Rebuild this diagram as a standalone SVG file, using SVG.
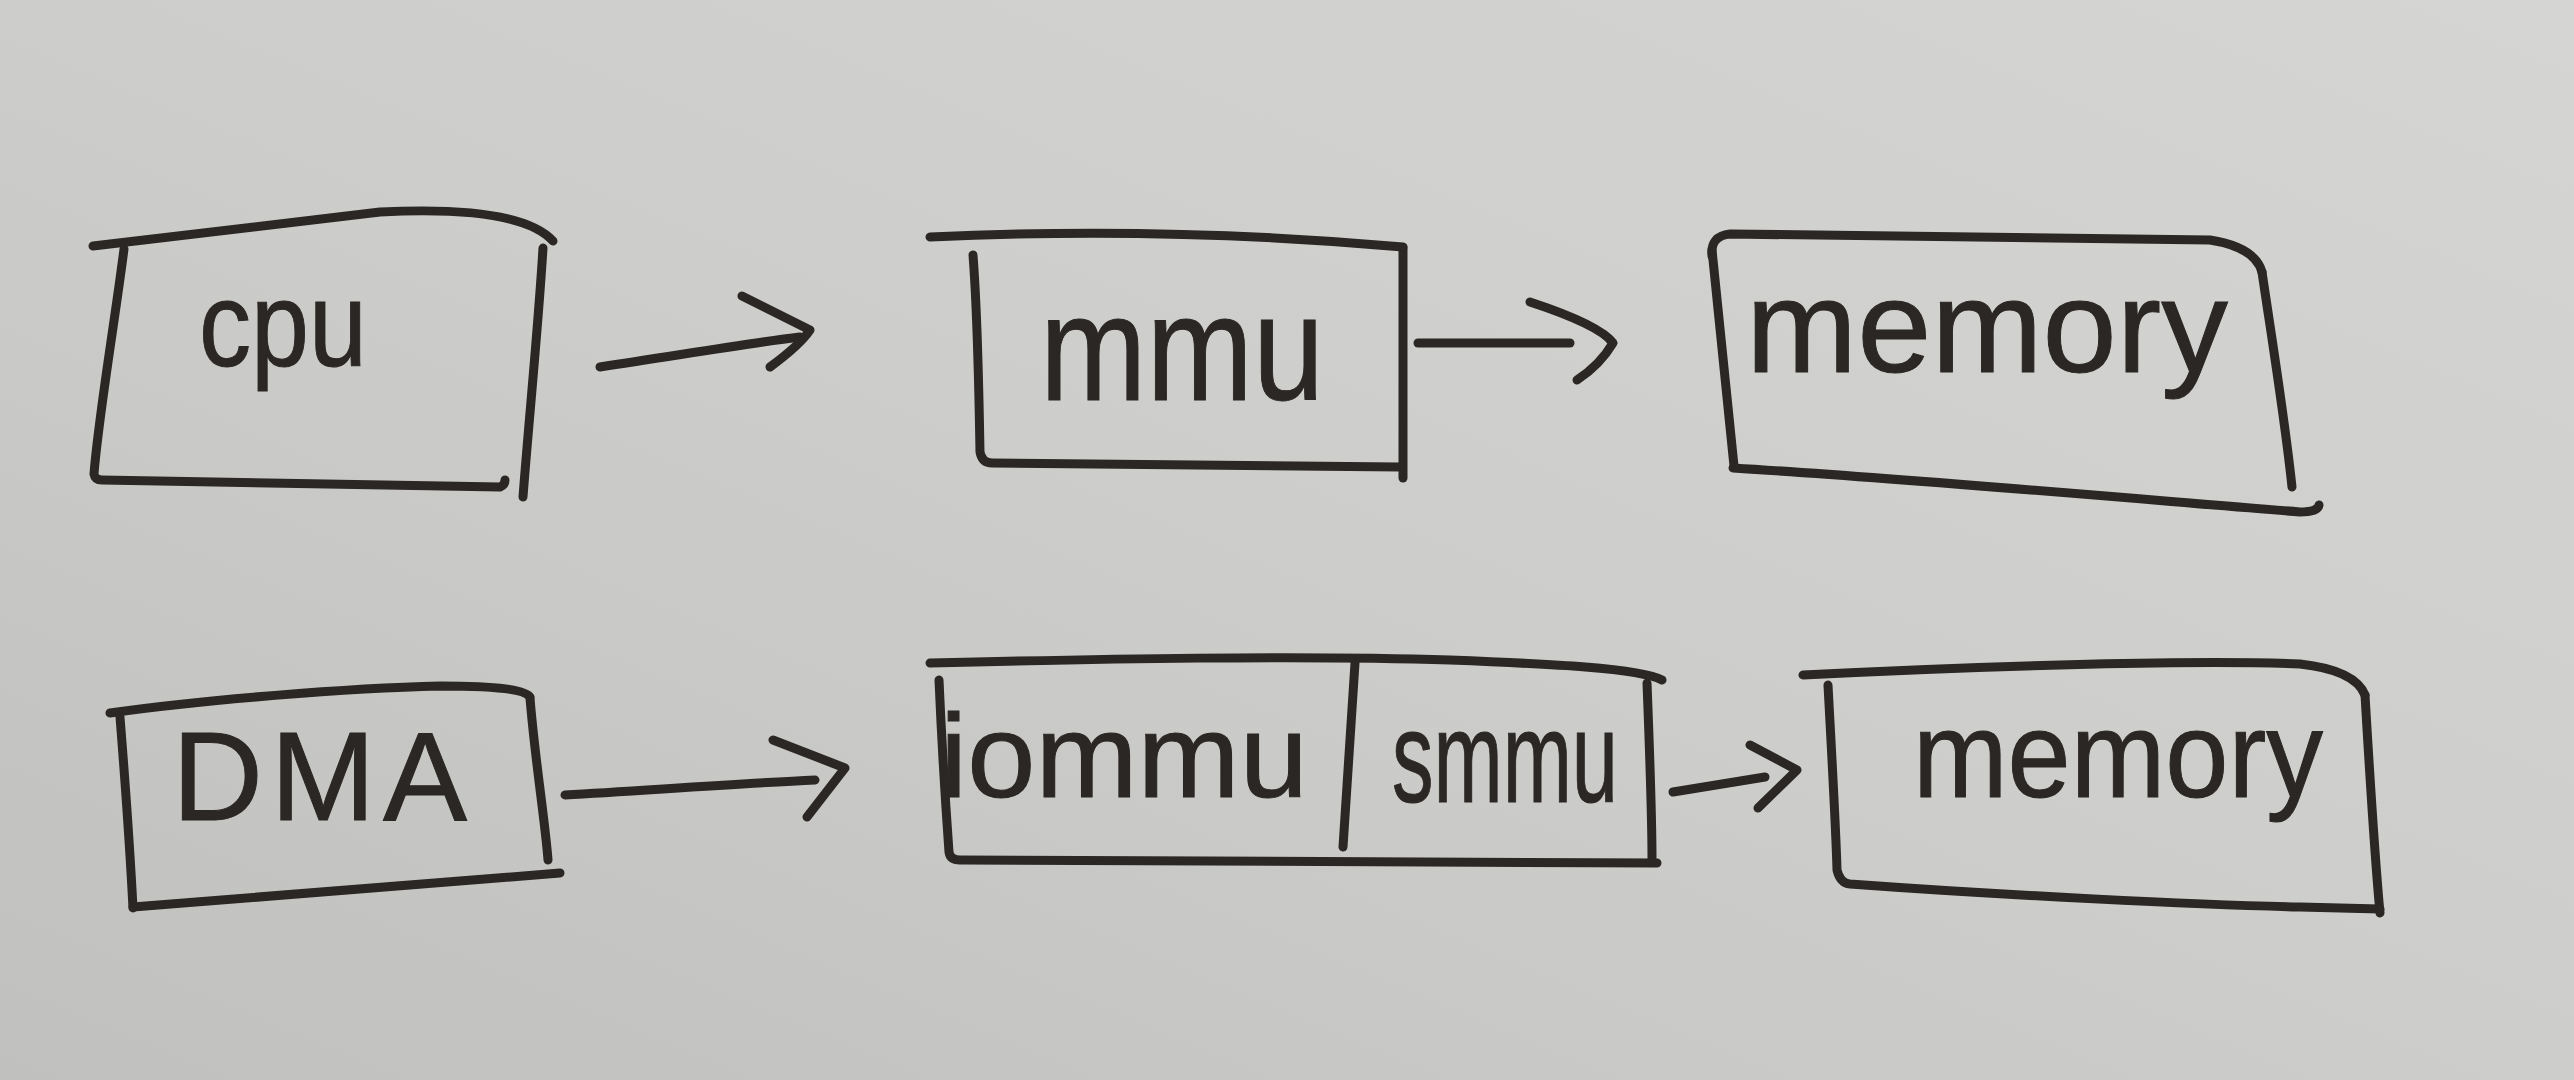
<svg xmlns="http://www.w3.org/2000/svg" width="2574" height="1080" viewBox="0 0 2574 1080">
<defs>
<linearGradient id="paper" x1="1" y1="0" x2="0" y2="1">
<stop offset="0" stop-color="#d5d6d3"/>
<stop offset="0.5" stop-color="#cdcecb"/>
<stop offset="1" stop-color="#c0c1be"/>
</linearGradient>
<style>
.ink{fill:none;stroke:#2b2724;stroke-width:9;stroke-linecap:round;stroke-linejoin:round}
.lbl{font-family:"Liberation Sans","DejaVu Sans",sans-serif;fill:#2b2724;stroke:#2b2724;stroke-width:1}
</style>
</defs>
<rect x="0" y="0" width="2574" height="1080" fill="url(#paper)"/>

<g id="node-cpu">
<path class="ink" d="M93,246 L380,212 Q520,205 553,241"/>
<path class="ink" d="M124,249 C115,320 98,420 94,474 Q95,480 102,480 L500,487 Q505,485 505,480"/>
<path class="ink" d="M543,248 C538,330 528,430 523,497"/>
<text class="lbl" x="199" y="366" font-size="120" textLength="168" lengthAdjust="spacingAndGlyphs">cpu</text>
</g>

<g id="node-mmu">
<path class="ink" d="M930,237 Q1167,226 1403,247"/>
<path class="ink" d="M973,255 C978,320 979,400 980,452 Q982,463 992,463 L1400,467"/>
<path class="ink" d="M1403,248 L1403,478"/>
<text class="lbl" x="1040" y="400" font-size="150" textLength="284" lengthAdjust="spacingAndGlyphs">mmu</text>
</g>

<g id="node-memory-top">
<path class="ink" d="M1712,256 Q1710,236 1730,234 L2210,240 Q2255,247 2262,272"/>
<path class="ink" d="M1712,250 L1734,466"/>
<path class="ink" d="M1733,468 C1900,478 2150,500 2300,512 Q2318,512 2319,505"/>
<path class="ink" d="M2262,272 C2272,340 2285,420 2292,487"/>
<text class="lbl" x="1746" y="372" font-size="132" textLength="482" lengthAdjust="spacingAndGlyphs">memory</text>
</g>

<g id="node-dma">
<path class="ink" d="M110,713 C200,700 350,688 440,686 C500,686 525,690 530,697"/>
<path class="ink" d="M120,717 C125,780 130,850 133,908"/>
<path class="ink" d="M133,907 C300,895 450,882 560,873"/>
<path class="ink" d="M530,698 C535,760 545,820 548,860"/>
<text class="lbl" x="172" y="820" font-size="126" textLength="295" lengthAdjust="spacing">DMA</text>
</g>

<g id="node-iommu-smmu">
<path class="ink" d="M930,663 C1100,659 1300,655 1450,660 C1550,664 1640,668 1662,680"/>
<path class="ink" d="M939,680 C942,750 946,810 949,852 Q950,860 960,860 L1657,863"/>
<path class="ink" d="M1647,683 C1650,760 1652,820 1652,860"/>
<path class="ink" d="M1355,663 L1343,847"/>
<text class="lbl" x="940" y="797" font-size="118" textLength="368" lengthAdjust="spacingAndGlyphs">iommu</text>
<text class="lbl" x="1392" y="802" font-size="130" textLength="226" lengthAdjust="spacingAndGlyphs">smmu</text>
</g>

<g id="node-memory-bottom">
<path class="ink" d="M1803,675 C2000,665 2200,660 2300,664 Q2355,670 2365,695"/>
<path class="ink" d="M1828,685 C1832,760 1836,830 1837,870 Q1840,883 1850,884 C2000,895 2200,905 2300,907 L2380,909"/>
<path class="ink" d="M2365,695 C2370,780 2375,860 2380,913"/>
<text class="lbl" x="1913" y="797" font-size="122" textLength="410" lengthAdjust="spacingAndGlyphs">memory</text>
</g>

<g id="connectors">
<path class="ink" d="M600,367 C680,355 750,343 800,337"/>
<path class="ink" d="M742,296 L810,330 Q800,345 770,367"/>
<path class="ink" d="M1418,343 L1570,343"/>
<path class="ink" d="M1530,302 Q1600,325 1613,343 Q1600,365 1577,380"/>
<path class="ink" d="M565,795 C650,790 750,783 815,780"/>
<path class="ink" d="M773,740 L845,768 L807,817"/>
<path class="ink" d="M1673,792 L1765,777"/>
<path class="ink" d="M1750,745 L1797,770 L1758,808"/>
</g>
</svg>
